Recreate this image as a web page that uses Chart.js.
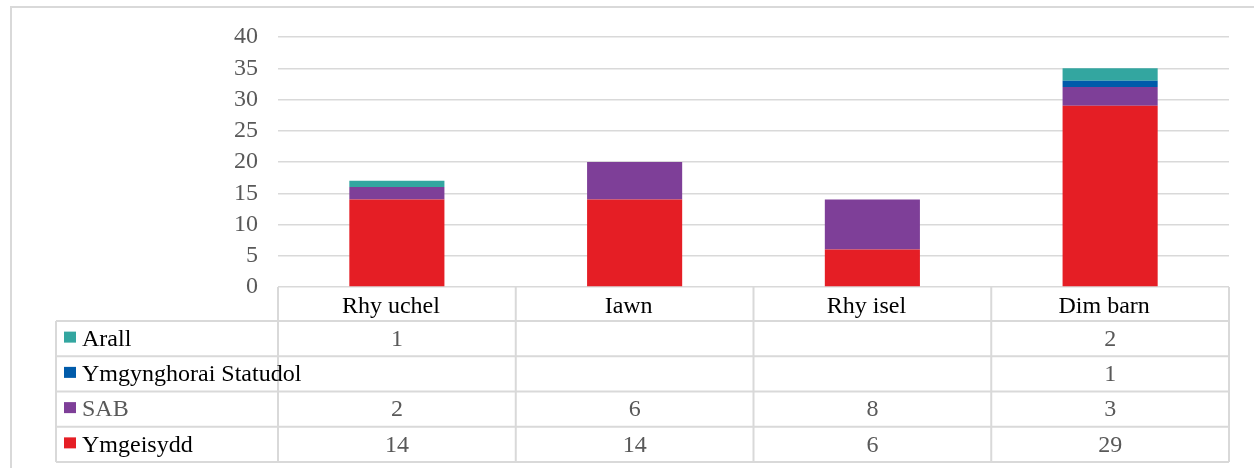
<!DOCTYPE html>
<html>
<head>
<meta charset="utf-8">
<script src="https://cdn.jsdelivr.net/npm/chart.js@4"></script>
<style>
	body { margin: 0; background: #fff; }
	canvas { display: block; }
</style>
</head>
<body>
<canvas id="chart" width="1254" height="468"></canvas>
<script>
// 카테고리 / 시리즈 값
const categories = ['Rhy uchel', 'Iawn', 'Rhy isel', 'Dim barn'];
const ymgeisydd = [14, 14, 6, 29];
const sab = [2, 6, 8, 3];
const ymgynghorai = [null, null, null, 1];
const arall = [1, null, null, 2];
const yTicks = [0, 5, 10, 15, 20, 25, 30, 35, 40];

const FONT = 'Liberation Serif, Times New Roman, serif';
const GRID = '#d9d9d9';

// 표 행 (위에서 아래 순서)
const tableRows = [
	{ name: 'Arall', values: arall, color: '#33a6a0', nameColor: '#000' },
	{ name: 'Ymgynghorai Statudol', values: ymgynghorai, color: '#005baa', nameColor: '#000' },
	{ name: 'SAB', values: sab, color: '#7e3f98', nameColor: '#595959' },
	{ name: 'Ymgeisydd', values: ymgeisydd, color: '#e51e25', nameColor: '#000' }
];

// 데이터 테이블 그리기
const dataTablePlugin = {
	id: 'dataTable',
	afterDraw(chart) {
		const ctx = chart.ctx;
		const area = chart.chartArea;
		const xScale = chart.scales.x;
		const catW = (area.right - area.left) / categories.length;
		const headerBottom = area.bottom + 34;
		const rowH = 35.25;
		const tableLeft = 56;
		const tableBottom = headerBottom + rowH * tableRows.length;

		ctx.save();
		ctx.strokeStyle = GRID;
		ctx.lineWidth = 2;

		// 바깥 테두리
		ctx.beginPath();
		ctx.moveTo(11, 468);
		ctx.lineTo(11, 7);
		ctx.lineTo(1254, 7);
		ctx.stroke();

		// 세로선
		ctx.beginPath();
		for (let i = 0; i <= categories.length; i++) {
			const x = area.left + i * catW;
			ctx.moveTo(x, area.bottom);
			ctx.lineTo(x, tableBottom);
		}
		ctx.moveTo(tableLeft, headerBottom);
		ctx.lineTo(tableLeft, tableBottom);
		// 가로선
		for (let r = 0; r <= tableRows.length; r++) {
			const y = headerBottom + r * rowH;
			ctx.moveTo(tableLeft, y);
			ctx.lineTo(area.right, y);
		}
		ctx.stroke();

		ctx.font = '24px ' + FONT;
		ctx.textAlign = 'center';
		ctx.textBaseline = 'middle';

		// 카테고리 이름
		ctx.fillStyle = '#000';
		categories.forEach((c, i) => {
			ctx.fillText(c, xScale.getPixelForValue(i) - 6, area.bottom + 20);
		});

		// 행
		tableRows.forEach((row, r) => {
			const cy = headerBottom + r * rowH + rowH / 2;
			ctx.fillStyle = row.color;
			ctx.fillRect(tableLeft + 8, cy - 7, 12, 11);
			ctx.textAlign = 'left';
			ctx.fillStyle = row.nameColor;
			ctx.fillText(row.name, tableLeft + 26, cy + 1);
			ctx.textAlign = 'center';
			ctx.fillStyle = '#595959';
			row.values.forEach((v, i) => {
				if (v !== null) ctx.fillText(String(v), xScale.getPixelForValue(i), cy + 1);
			});
		});
		ctx.restore();
	}
};

new Chart(document.getElementById('chart'), {
	type: 'bar',
	data: {
		labels: categories,
		datasets: [
			{ label: 'Ymgeisydd', data: ymgeisydd, backgroundColor: '#e51e25' },
			{ label: 'SAB', data: sab, backgroundColor: '#7e3f98' },
			{ label: 'Ymgynghorai Statudol', data: ymgynghorai, backgroundColor: '#005baa' },
			{ label: 'Arall', data: arall, backgroundColor: '#33a6a0' }
		]
	},
	options: {
		responsive: false,
		animation: false,
		barPercentage: 0.4,
		categoryPercentage: 1.0,
		layout: {
			padding: { left: 0, top: 37, right: 25, bottom: 181 }
		},
		plugins: {
			legend: { display: false },
			tooltip: { enabled: false }
		},
		scales: {
			x: {
				stacked: true,
				display: false
			},
			y: {
				stacked: true,
				min: 0,
				max: 40,
				afterFit: scale => { scale.width = 278; },
				afterBuildTicks: scale => { scale.ticks = yTicks.map(v => ({ value: v })); },
				border: { display: false },
				grid: { color: GRID, lineWidth: 1.5, drawTicks: false },
				ticks: {
					autoSkip: false,
					padding: 20,
					color: '#595959',
					font: { family: FONT, size: 24 }
				}
			}
		}
	},
	plugins: [dataTablePlugin]
});
</script>
</body>
</html>
